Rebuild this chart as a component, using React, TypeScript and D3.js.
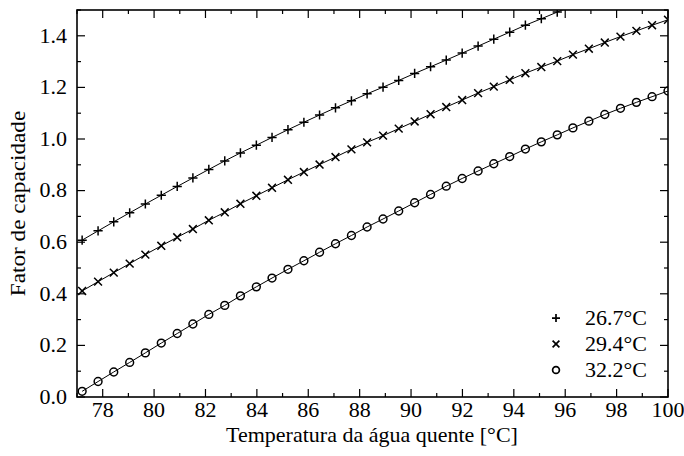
import React from 'react';
import * as d3 from 'd3';

// água quente temperature at each marker [°C]
const temps = [
  77.2, 77.82, 78.43, 79.05, 79.66, 80.28, 80.9, 81.51, 82.13, 82.75,
  83.36, 83.98, 84.59, 85.21, 85.83, 86.44, 87.06, 87.68, 88.29, 88.91,
  89.52, 90.14, 90.76, 91.37, 91.99, 92.61, 93.22, 93.84, 94.45, 95.07,
  95.69, 96.3, 96.92, 97.54, 98.15, 98.77, 99.38, 100.0,
];

const fator267 = [
  0.608, 0.644, 0.679, 0.714, 0.748, 0.782, 0.816, 0.849, 0.882, 0.915,
  0.946, 0.976, 1.006, 1.036, 1.065, 1.093, 1.121, 1.148, 1.175, 1.201,
  1.227, 1.254, 1.280, 1.306, 1.333, 1.360, 1.387, 1.414, 1.441, 1.466,
  1.492, 1.518,
];

const fator294 = [
  0.411, 0.447, 0.482, 0.517, 0.552, 0.586, 0.619, 0.651, 0.685, 0.716,
  0.749, 0.780, 0.811, 0.842, 0.872, 0.901, 0.930, 0.960, 0.987, 1.013,
  1.040, 1.068, 1.096, 1.124, 1.151, 1.178, 1.203, 1.229, 1.255, 1.279,
  1.302, 1.327, 1.350, 1.374, 1.397, 1.419, 1.441, 1.462,
];

const fator322 = [
  0.022, 0.060, 0.097, 0.134, 0.171, 0.209, 0.246, 0.283, 0.320, 0.355,
  0.392, 0.427, 0.461, 0.495, 0.528, 0.561, 0.594, 0.626, 0.659, 0.690,
  0.721, 0.753, 0.785, 0.817, 0.847, 0.876, 0.904, 0.932, 0.961, 0.989,
  1.016, 1.043, 1.069, 1.095, 1.119, 1.142, 1.164, 1.186,
];

const seriesNames = ['26.7°C', '29.4°C', '32.2°C'];
const xMajor = [78, 80, 82, 84, 86, 88, 90, 92, 94, 96, 98, 100];
const yMajor = [0, 0.2, 0.4, 0.6, 0.8, 1.0, 1.2, 1.4];

const W = 684, H = 456;
const margin = { top: 10, right: 16, bottom: 59, left: 77 };
const FONT = '"Liberation Serif", "DejaVu Serif", serif';
const FS = 20;
const SX = 1.1; // the reference type is a little wide

type Shape = 'plus' | 'cross' | 'circle';

const Marker = ({ shape, cx, cy, s, sw }: { shape: Shape; cx: number; cy: number; s: number; sw: number }) => {
  if (shape === 'plus')
    return <path d={`M${cx - s},${cy}H${cx + s}M${cx},${cy - s}V${cy + s}`} stroke="#000" strokeWidth={sw} fill="none" />;
  if (shape === 'cross') {
    const k = s * 0.85;
    return <path d={`M${cx - k},${cy - k}L${cx + k},${cy + k}M${cx - k},${cy + k}L${cx + k},${cy - k}`} stroke="#000" strokeWidth={sw} fill="none" />;
  }
  return <circle cx={cx} cy={cy} r={s * 0.85} stroke="#000" strokeWidth={sw} fill="none" />;
};

const Label = ({ x, y, anchor, children, dy, sx = SX, rot = 0 }:
  { x: number; y: number; anchor: string; children: React.ReactNode; dy?: string; sx?: number; rot?: number }) => (
  <text transform={`translate(${x},${y}) rotate(${rot}) scale(${sx},1)`} dy={dy} textAnchor={anchor} fontSize={FS}>{children}</text>
);

export default function App() {
  const iw = W - margin.left - margin.right;
  const ih = H - margin.top - margin.bottom;
  const x = d3.scaleLinear().domain([77, 100]).range([0, iw]);
  const y = d3.scaleLinear().domain([0, 1.5]).range([ih, 0]);
  const fmt = d3.format('.1f');

  const series: { vals: number[]; shape: Shape }[] = [
    { vals: fator267, shape: 'plus' },
    { vals: fator294, shape: 'cross' },
    { vals: fator322, shape: 'circle' },
  ];

  const line = d3.line<[number, number]>().x(d => x(d[0])).y(d => y(d[1])).curve(d3.curveMonotoneX);
  const xMinor = d3.range(77, 101, 1);
  const yMinor = d3.range(0, 16, 1).map(v => v / 10);

  return (
    <div style={{ position: 'fixed', left: 0, top: 0 }}>
      <svg width={W} height={H} style={{ display: 'block', background: '#fff' }} fontFamily={FONT}>
        <defs>
          <clipPath id="plot-clip">
            <rect x={0} y={0} width={iw} height={ih} />
          </clipPath>
        </defs>
        <g transform={`translate(${margin.left},${margin.top})`}>
          {/* ticks on all four sides, pointing inward */}
          {xMinor.map(v => {
            const major = xMajor.includes(v);
            const len = major ? 8 : 4;
            return (
              <g key={'xt' + v} stroke="#000" strokeWidth={1.2}>
                <line x1={x(v)} x2={x(v)} y1={ih} y2={ih - len} />
                <line x1={x(v)} x2={x(v)} y1={0} y2={len} />
              </g>
            );
          })}
          {yMinor.map(v => {
            const major = yMajor.some(m => Math.abs(m - v) < 1e-9);
            const len = major ? 8 : 4;
            return (
              <g key={'yt' + v} stroke="#000" strokeWidth={1.2}>
                <line x1={0} x2={len} y1={y(v)} y2={y(v)} />
                <line x1={iw} x2={iw - len} y1={y(v)} y2={y(v)} />
              </g>
            );
          })}
          {xMajor.map(v => (
            <Label key={'xl' + v} x={x(v)} y={ih + 20} anchor="middle">{v}</Label>
          ))}
          {yMajor.map(v => (
            <Label key={'yl' + v} x={-10} y={y(v)} dy="0.34em" anchor="end">{fmt(v)}</Label>
          ))}

          <g clipPath="url(#plot-clip)">
            {series.map((s, i) => {
              const pts = s.vals.map((v, j) => [temps[j], v] as [number, number]);
              return (
                <g key={'s' + i}>
                  <path d={line(pts) ?? ''} fill="none" stroke="#000" strokeWidth={1} />
                  {pts.filter(p => p[1] <= 1.5).map((p, j) => (
                    <Marker key={j} shape={s.shape} cx={x(p[0])} cy={y(p[1])} s={4.6} sw={1.5} />
                  ))}
                </g>
              );
            })}
          </g>

          <rect x={0} y={0} width={iw} height={ih} fill="none" stroke="#000" strokeWidth={1.6} />

          {/* legend */}
          {seriesNames.map((name, i) => (
            <g key={'lg' + i} transform={`translate(${iw - 112},${y(0.306) + i * 26})`}>
              <Marker shape={series[i].shape} cx={0} cy={0} s={4} sw={1.7} />
              <Label x={91} y={0} dy="0.34em" anchor="end">{name}</Label>
            </g>
          ))}
        </g>

        <Label x={372} y={442} anchor="middle">Temperatura da água quente [°C]</Label>
        <Label x={25} y={margin.top + ih / 2} anchor="middle" rot={-90} sx={1.16}>Fator de capacidade</Label>
      </svg>
    </div>
  );
}
